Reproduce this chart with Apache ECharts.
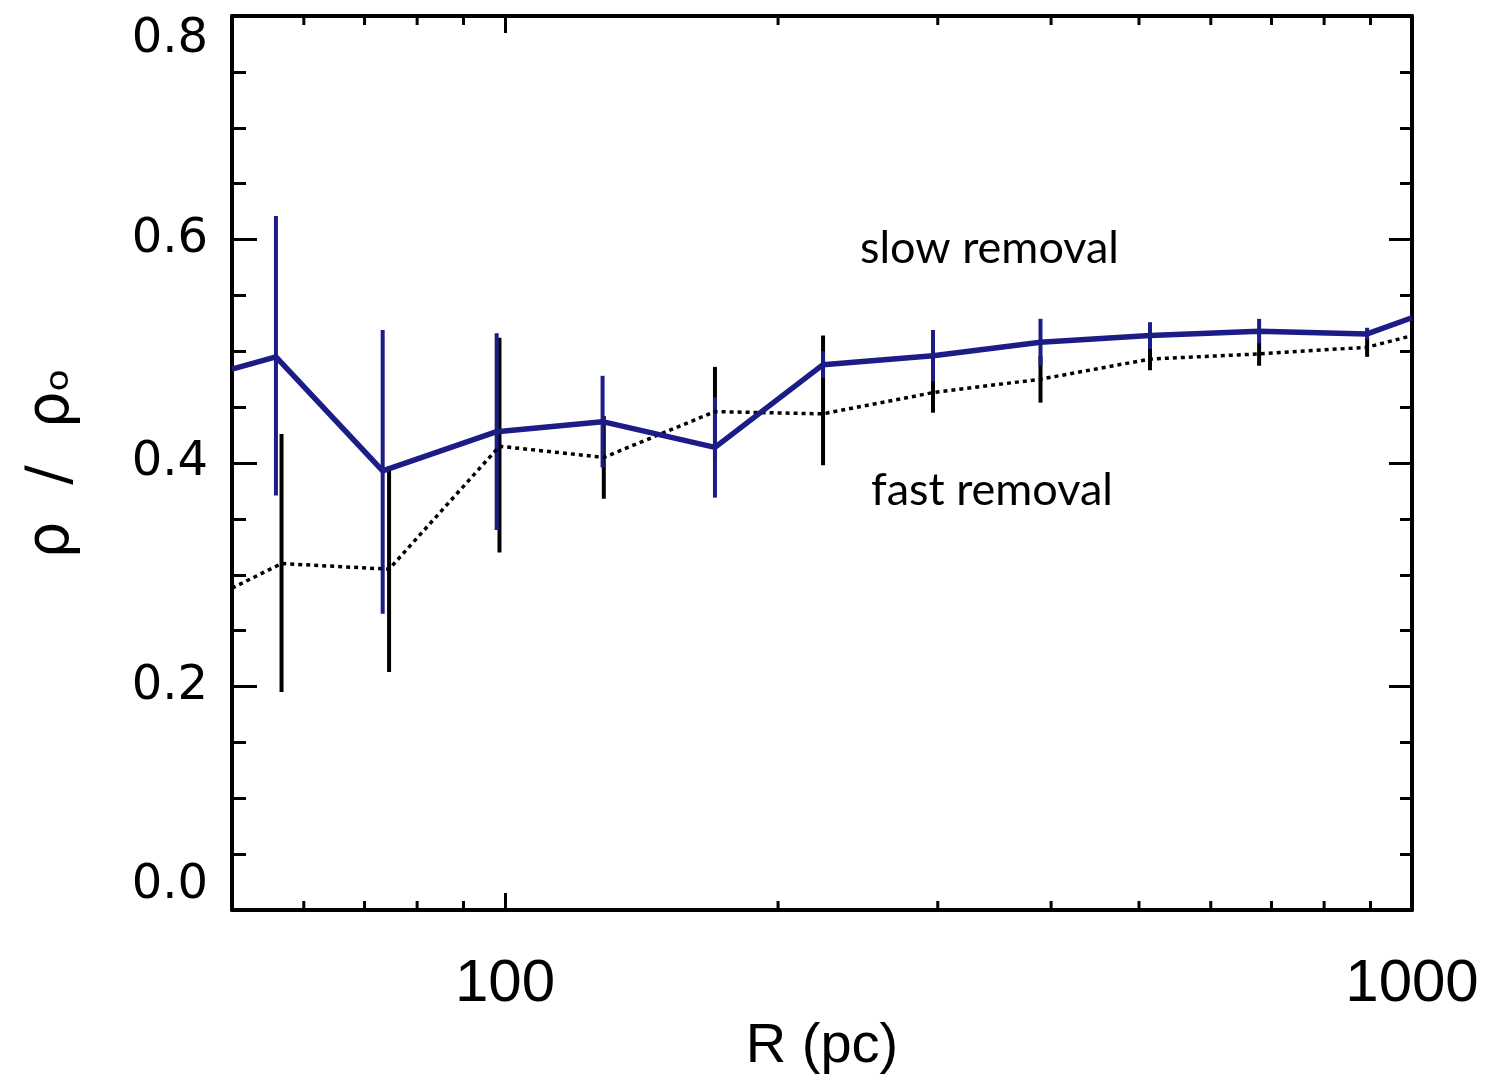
<!DOCTYPE html>
<html>
<head>
<meta charset="utf-8">
<script src="https://cdn.jsdelivr.net/npm/echarts@6/dist/echarts.min.js"></script>
<style>
html,body{margin:0;padding:0;background:#fff;}
#chart{width:1496px;height:1087px;}
</style>
</head>
<body>
<div id="chart"></div>
<script>
// ---- data ----
// slow removal (solid blue line)
var slowR    = [50, 55.9, 73.3, 97.9, 128.1, 170.4, 224.2, 296.4, 389.4, 514.2, 678.3, 892.3, 1000];
var slowVal  = [0.484, 0.495, 0.393, 0.428, 0.437, 0.414, 0.488, 0.496, 0.508, 0.514, 0.518, 0.5155, 0.530];
var slowErrR = [55.9, 73.3, 97.9, 128.1, 170.4, 224.2, 296.4, 389.4, 514.2, 678.3, 892.3];
var slowLow  = [0.371, 0.265, 0.340, 0.396, 0.369, 0.476, 0.473, 0.487, 0.502, 0.507, 0.510];
var slowHigh = [0.621, 0.519, 0.516, 0.478, 0.459, 0.500, 0.519, 0.529, 0.526, 0.529, 0.521];
// fast removal (dotted black line)
var fastR    = [50, 56.7, 74.5, 98.6, 128.5, 170.4, 224.2, 296.4, 389.4, 514.2, 678.3, 892.3, 1000];
var fastVal  = [0.288, 0.310, 0.305, 0.415, 0.405, 0.446, 0.444, 0.463, 0.475, 0.493, 0.4976, 0.5036, 0.514];
var fastErrR = [56.7, 74.5, 98.6, 128.5, 170.4, 224.2, 296.4, 389.4, 514.2, 678.3, 892.3];
var fastLow  = [0.195, 0.213, 0.320, 0.368, 0.404, 0.398, 0.445, 0.454, 0.483, 0.487, 0.495];
var fastHigh = [0.426, 0.397, 0.512, 0.442, 0.486, 0.514, 0.481, 0.496, 0.503, 0.508, 0.512];
// axes
var xMin = 50, xMax = 1000;
var xLabels = [100, 1000];
var xMinorTicks = [60, 70, 80, 90, 200, 300, 400, 500, 600, 700, 800, 900];
var yMin = 0, yMax = 0.8, yInterval = 0.2;
var annotations = ['slow removal', 'fast removal'];

var BLUE = '#1c1c86';

function zip2(a, b) { return a.map(function (v, i) { return [v, b[i]]; }); }
function zip3(a, b, c) { return a.map(function (v, i) { return [v, b[i], c[i]]; }); }

function errRender(color, width) {
  return function (params, api) {
    var x = api.value(0);
    var lo = api.coord([x, api.value(1)]);
    var hi = api.coord([x, api.value(2)]);
    return {
      type: 'line',
      shape: { x1: lo[0], y1: lo[1], x2: hi[0], y2: hi[1] },
      style: { stroke: color, lineWidth: width }
    };
  };
}

function minorTickRender(params, api) {
  var x = api.value(0);
  var b = api.coord([x, yMin]);
  var t = api.coord([x, yMax]);
  return {
    type: 'group',
    children: [
      { type: 'line', shape: { x1: b[0], y1: b[1], x2: b[0], y2: b[1] - 9 }, style: { stroke: '#000', lineWidth: 3 } },
      { type: 'line', shape: { x1: t[0], y1: t[1], x2: t[0], y2: t[1] + 9 }, style: { stroke: '#000', lineWidth: 3 } }
    ]
  };
}

var chart = echarts.init(document.getElementById('chart'), null, { renderer: 'canvas' });

var axisLineStyle = { color: '#000', width: 4 };

var option = {
  backgroundColor: '#fff',
  animation: false,
  grid: { left: 232, right: 84, top: 16, bottom: 177, containLabel: false },
  xAxis: [
    {
      type: 'log', logBase: 10, min: xMin, max: xMax, position: 'bottom',
      axisLine: { show: true, onZero: false, lineStyle: axisLineStyle },
      axisTick: { show: true, inside: true, length: 17, lineStyle: { color: '#000', width: 3 } },
      splitLine: { show: false },
      axisLabel: {
        show: true, margin: 44, color: '#000', fontFamily: 'Liberation Sans', fontSize: 60,
        showMinLabel: true, showMaxLabel: true,
        formatter: function (v) {
          var r = Math.round(v);
          return xLabels.indexOf(r) >= 0 ? String(r) : '';
        }
      },
      name: 'R (pc)', nameLocation: 'middle', nameGap: 98,
      nameTextStyle: { color: '#000', fontFamily: 'Liberation Sans', fontSize: 56 }
    },
    {
      type: 'log', logBase: 10, min: xMin, max: xMax, position: 'top',
      axisLine: { show: true, onZero: false, lineStyle: axisLineStyle },
      axisTick: { show: true, inside: true, length: 17, lineStyle: { color: '#000', width: 3 } },
      splitLine: { show: false },
      axisLabel: { show: false }
    }
  ],
  yAxis: [
    {
      type: 'value', min: yMin, max: yMax, interval: yInterval, position: 'left',
      axisLine: { show: true, onZero: false, lineStyle: axisLineStyle },
      axisTick: { show: true, inside: true, length: 25, lineStyle: { color: '#000', width: 3 } },
      minorTick: { show: true, splitNumber: 4, length: 14, lineStyle: { color: '#000', width: 3 } },
      splitLine: { show: false },
      axisLabel: {
        margin: 24, color: '#000', fontFamily: 'DejaVu Sans', fontSize: 48,
        formatter: function (v) { return v.toFixed(1); },
        verticalAlignMinLabel: 'bottom', verticalAlignMaxLabel: 'top'
      },
      name: 'ρ  /  ρₒ', nameLocation: 'middle', nameGap: 150, nameRotate: 90,
      nameTextStyle: { color: '#000', fontFamily: 'DejaVu Sans', fontSize: 58 }
    },
    {
      type: 'value', min: yMin, max: yMax, interval: yInterval, position: 'right',
      axisLine: { show: true, onZero: false, lineStyle: axisLineStyle },
      axisTick: { show: true, inside: true, length: 23, lineStyle: { color: '#000', width: 3 } },
      minorTick: { show: true, splitNumber: 4, length: 12, lineStyle: { color: '#000', width: 3 } },
      splitLine: { show: false },
      axisLabel: { show: false }
    }
  ],
  series: [
    {
      name: 'minor x ticks', type: 'custom', xAxisIndex: 0, yAxisIndex: 0,
      renderItem: minorTickRender, data: xMinorTicks.map(function (v) { return [v]; }),
      encode: { x: 0 }, silent: true, z: 5, clip: false
    },
    {
      name: 'fast err', type: 'custom', xAxisIndex: 0, yAxisIndex: 0,
      renderItem: errRender('#000', 4), data: zip3(fastErrR, fastLow, fastHigh),
      encode: { x: 0, y: [1, 2] }, z: 2
    },
    {
      name: 'slow err', type: 'custom', xAxisIndex: 0, yAxisIndex: 0,
      renderItem: errRender(BLUE, 4), data: zip3(slowErrR, slowLow, slowHigh),
      encode: { x: 0, y: [1, 2] }, z: 3
    },
    {
      name: 'fast removal', type: 'line', xAxisIndex: 0, yAxisIndex: 0,
      data: zip2(fastR, fastVal), symbol: 'none',
      lineStyle: { color: '#000', width: 3.5, type: [4, 4] }, z: 4
    },
    {
      name: 'slow removal', type: 'line', xAxisIndex: 0, yAxisIndex: 0,
      data: zip2(slowR, slowVal), symbol: 'none',
      lineStyle: { color: BLUE, width: 5.5 }, z: 6
    }
  ],
  graphic: [
    { type: 'text', left: 860, top: 226, style: { text: annotations[0], font: '45px Lato', fill: '#000' } },
    { type: 'text', left: 871, top: 468, style: { text: annotations[1], font: '45px Lato', fill: '#000' } }
  ]
};

chart.setOption(option);
</script>
</body>
</html>
